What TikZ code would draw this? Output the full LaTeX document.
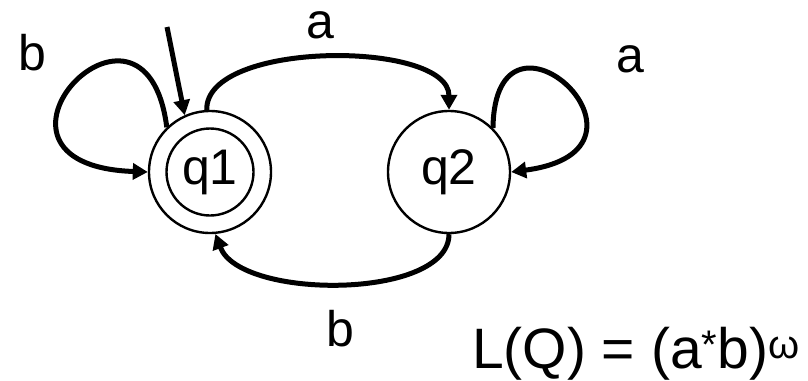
\documentclass[tikz,border=0pt]{standalone}
\usepackage{fontspec}
\setmainfont{Liberation Sans}
\usetikzlibrary{arrows.meta}

\begin{document}
\begin{tikzpicture}[x=1pt, y=-1pt, font=\fontsize{50}{60}\selectfont,
  state/.style={draw, circle, line width=2.4pt, minimum size=122pt, inner sep=0pt},
  trans/.style={line width=5pt, -{Triangle[length=15pt, width=16pt]}},
  lbl/.style={anchor=base, inner sep=0pt}]
  \useasboundingbox (0,0) rectangle (808,380);

  % states
  \node (q1) [state] at (210,172) {q1};
  \node (q1in) [state, minimum size=87pt] at (q1) {};
  \node (q2) [state] at (449,172) {q2};
  \coordinate (start) at (167,27);

  % transitions
  \draw[trans] (start) -- (q1.114);
  \draw[trans] (q1.134) .. controls (145,-42) and (-50,165) .. (q1.180);
  \draw[trans] (q1.93) .. controls (205,40) and (449,40) .. (q2.90);
  \draw[trans] (q2.45) .. controls (495,-20) and (680,150) .. (q2.0);
  \draw[trans] (q2.270) .. controls (449,300) and (240,300) .. (q1.275);

  % labels
  \node (lb1) [lbl] at (32,70) {b};
  \node (la1) [lbl] at (320,38) {a};
  \node (la2) [lbl] at (630,72) {a};
  \node (lb2) [lbl] at (340,346) {b};
  \node (lang) [lbl, anchor=base west, font=\fontsize{57}{66}\selectfont] at (472,368)
    {L(Q) = (a\textsuperscript{*}b)\textsuperscript{ω}};
\end{tikzpicture}
\end{document}
